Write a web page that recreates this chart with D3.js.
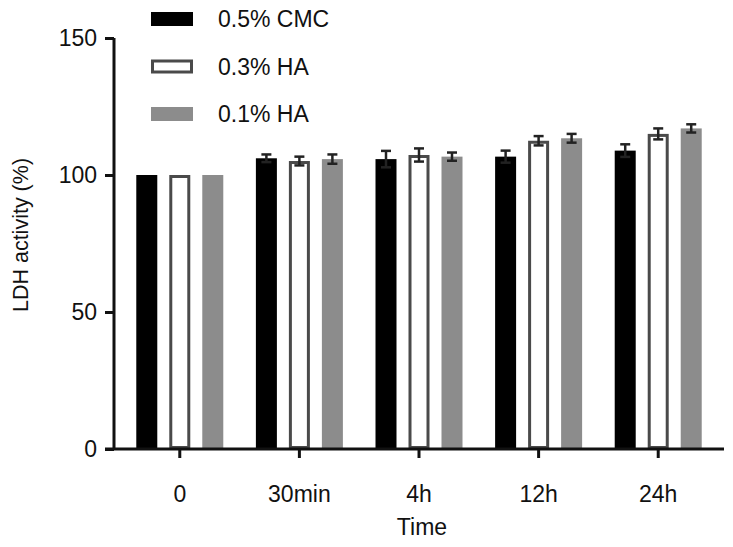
<!DOCTYPE html>
<html>
<head>
<meta charset="utf-8">
<script src="https://cdn.jsdelivr.net/npm/d3@7"></script>
<style>
  body { margin: 0; background: #fff; }
  text { font-family: "Liberation Sans", Arial, sans-serif; fill: #111; }
</style>
</head>
<body>
<svg id="chart" width="733" height="547"></svg>
<script>
// data
var times = ["0", "30min", "4h", "12h", "24h"];
var groups = ["0.5% CMC", "0.3% HA", "0.1% HA"];
var cmcMean = [100, 106.1, 105.8, 106.7, 108.9];
var cmcErr  = [0, 1.4, 3.0, 2.2, 2.3];
var ha3Mean = [100, 105.1, 107.3, 112.5, 115.0];
var ha3Err  = [0, 1.6, 2.4, 1.7, 2.0];
var ha1Mean = [100, 105.8, 106.7, 113.4, 117.0];
var ha1Err  = [0, 1.7, 1.5, 1.6, 1.5];
var yTicks = [0, 50, 100, 150];

var series = [
  { name: groups[0], mean: cmcMean, err: cmcErr, fill: "#000", stroke: "none" },
  { name: groups[1], mean: ha3Mean, err: ha3Err, fill: "#fff", stroke: "#4a4a4a" },
  { name: groups[2], mean: ha1Mean, err: ha1Err, fill: "#8c8c8c", stroke: "none" }
];

var svg = d3.select("#chart");

var y = d3.scaleLinear().domain([0, 150]).range([449, 38]);
var x = d3.scaleBand().domain(times).range([114, 724]).paddingInner(0).paddingOuter(0.05);
var bw = 21;

// bars
series.forEach(function(s, si) {
  var g = svg.append("g");
  var pad = s.stroke !== "none" ? 1.5 : 0;
  g.selectAll("rect")
    .data(s.mean)
    .enter().append("rect")
      .attr("x", function(d, i) { return x(times[i]) + x.bandwidth() / 2 + (si - 1) * 33 - bw / 2 + pad; })
      .attr("y", function(d) { return y(d) + pad; })
      .attr("width", bw - 2 * pad)
      .attr("height", function(d) { return y(0) - y(d) - 2 * pad; })
      .attr("fill", s.fill)
      .attr("stroke", s.stroke === "none" ? null : s.stroke)
      .attr("stroke-width", 3);

  // error bars
  var eb = g.selectAll("g.err")
    .data(s.mean.map(function(m, i) { return { m: m, e: s.err[i], i: i }; }).filter(function(d) { return d.e > 0; }))
    .enter().append("g")
      .attr("class", "err")
      .attr("transform", function(d) { return "translate(" + (x(times[d.i]) + x.bandwidth() / 2 + (si - 1) * 33) + ",0)"; })
      .attr("stroke", "#222")
      .attr("stroke-width", 2.5);
  eb.append("line")
    .attr("y1", function(d) { return y(d.m + d.e); })
    .attr("y2", function(d) { return y(d.m - d.e); });
  eb.append("line")
    .attr("x1", -5).attr("x2", 5)
    .attr("y1", function(d) { return y(d.m + d.e); })
    .attr("y2", function(d) { return y(d.m + d.e); });
  eb.append("line")
    .attr("x1", -5).attr("x2", 5)
    .attr("y1", function(d) { return y(d.m - d.e); })
    .attr("y2", function(d) { return y(d.m - d.e); });
});

// axes
var yAxis = svg.append("g")
  .attr("transform", "translate(114,0)")
  .call(d3.axisLeft(y).tickValues(yTicks).tickSize(9).tickPadding(8).tickSizeOuter(0));
yAxis.select(".domain").attr("stroke", "#111").attr("stroke-width", 3).attr("d", "M0," + y(150) + "V" + y(0));
yAxis.selectAll(".tick line").attr("stroke", "#111").attr("stroke-width", 3);
yAxis.selectAll(".tick text").style("font-size", "23px").attr("fill", "#111");

var xAxis = svg.append("g")
  .attr("transform", "translate(0,449)")
  .call(d3.axisBottom(x).tickSize(9).tickPadding(28).tickSizeOuter(0));
xAxis.select(".domain").attr("stroke", "#111").attr("stroke-width", 3).attr("d", "M105,0H724");
xAxis.selectAll(".tick line").attr("stroke", "#111").attr("stroke-width", 3);
xAxis.selectAll(".tick text").style("font-size", "23px").attr("fill", "#111");

// axis titles
svg.append("text")
  .attr("x", 422).attr("y", 535)
  .attr("text-anchor", "middle")
  .style("font-size", "23px")
  .text("Time");
svg.append("text")
  .attr("transform", "translate(28,235) rotate(-90)")
  .attr("text-anchor", "middle")
  .style("font-size", "21.5px")
  .text("LDH activity (%)");

// legend
var legend = svg.append("g")
  .selectAll("g")
  .data(series)
  .enter().append("g")
    .attr("transform", function(d, i) { return "translate(151," + (12 + i * 47.5) + ")"; });
legend.append("rect")
  .attr("x", function(d) { return d.stroke !== "none" ? 1.5 : 0; })
  .attr("y", function(d) { return d.stroke !== "none" ? 1.5 : 0; })
  .attr("width", function(d) { return d.stroke !== "none" ? 39 : 42; })
  .attr("height", function(d) { return d.stroke !== "none" ? 11 : 14; })
  .attr("fill", function(d) { return d.fill; })
  .attr("stroke", function(d) { return d.stroke === "none" ? null : d.stroke; })
  .attr("stroke-width", 3);
legend.append("text")
  .attr("x", 67).attr("y", 7)
  .attr("dy", "0.35em")
  .style("font-size", "23px")
  .text(function(d) { return d.name; });
</script>
</body>
</html>
